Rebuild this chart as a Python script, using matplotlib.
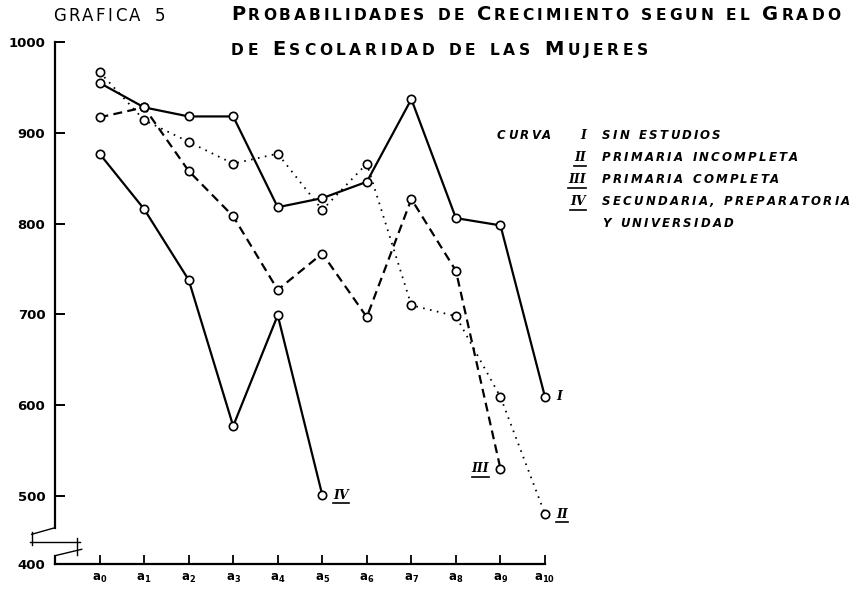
import matplotlib
matplotlib.use('Agg')
import matplotlib.pyplot as plt
from matplotlib.lines import Line2D
from matplotlib.font_manager import FontProperties

# Data (a0 .. a10)
x_labels = [r'$\mathbf{a}_{\mathbf{%d}}$' % i for i in range(11)]
x_pos = list(range(11))
curve_I = [955, 928, 918, 918, 818, 828, 846, 937, 806, 798, 609]
curve_II = [967, 914, 890, 866, 877, 815, 866, 710, 698, 609, 480]
curve_III = [917, 928, 858, 808, 727, 767, 697, 827, 748, 530]
curve_IV = [877, 816, 738, 577, 699, 501]
y_ticks = [500, 600, 700, 800, 900, 1000]
legend_rows = [('I', 'SIN ESTUDIOS'), ('II', 'PRIMARIA INCOMPLETA'),
               ('III', 'PRIMARIA COMPLETA'), ('IV', 'SECUNDARIA, PREPARATORIA'),
               ('', 'Y UNIVERSIDAD')]

W, H = 852, 596
fig = plt.figure(figsize=(W / 100, H / 100), dpi=100)
ax = fig.add_axes([55 / W, 32 / H, 490 / W, 522 / H])
renderer = fig.canvas.get_renderer()


def fx(px):
    return px / W


def fy(py):
    return 1 - py / H


def spaced_text(x0, y, chars, sizes, x1=None, track=0.0, space=0.45, **kw):
    # letter by letter so the spacing of the lettering can be matched
    widths = []
    for ch, sz in zip(chars, sizes):
        if ch == ' ':
            widths.append(space * sz * 100 / 72)
        else:
            prop = FontProperties(family=kw.get('family', 'DejaVu Sans'),
                                  weight=kw.get('fontweight', 'normal'),
                                  style=kw.get('fontstyle', 'normal'), size=sz)
            w, h, d = renderer.get_text_width_height_descent(ch, prop, ismath=False)
            widths.append(w)
    if x1 is not None:
        track = (x1 - x0 - sum(widths)) / (len(chars) - 1)
    x = x0
    for ch, sz, w in zip(chars, sizes, widths):
        if ch != ' ':
            fig.text(fx(x), fy(y), ch, fontsize=sz, ha='left', va='baseline', **kw)
        x += w + track
    return track


def small_caps(x0, y, s, big, small, x1, **kw):
    chars = s.upper()
    sizes = [big if c.isupper() else small for c in s]
    spaced_text(x0, y, chars, sizes, x1=x1, fontweight='bold', **kw)


def underline(t, pad=1.5):
    bb = t.get_window_extent(renderer)
    fig.add_artist(Line2D([bb.x0 / W, bb.x1 / W], [(bb.y0 - pad) / H] * 2,
                          color='black', lw=1.2))


# curves
ax.plot(x_pos, curve_I, color='black', lw=1.6, marker='o', ms=6, mfc='white',
        mec='black', mew=1.2, clip_on=False, zorder=3)
ax.plot(x_pos, curve_II, color='black', lw=1.3, dashes=(0.9, 3), marker='o', ms=6,
        mfc='white', mec='black', mew=1.2, clip_on=False, zorder=3)
ax.plot(x_pos[:len(curve_III)], curve_III, color='black', lw=1.6, dashes=(4, 2.4),
        marker='o', ms=6, mfc='white', mec='black', mew=1.2, clip_on=False, zorder=3)
ax.plot(x_pos[:len(curve_IV)], curve_IV, color='black', lw=1.6, marker='o', ms=6,
        mfc='white', mec='black', mew=1.2, clip_on=False, zorder=3)

ax.set_xlim(-1, 10)
ax.set_ylim(425, 1000)

# axes styling
for side in ['top', 'right']:
    ax.spines[side].set_visible(False)
ax.spines['left'].set_bounds(465, 1000)
ax.spines['left'].set_linewidth(1.6)
ax.spines['bottom'].set_linewidth(1.6)

ax.set_xticks(x_pos)
ax.set_xticklabels(x_labels, fontsize=8.5)
ax.set_yticks(y_ticks + [425])
ax.set_yticklabels([str(v) for v in y_ticks] + ['400'], fontsize=9.5, fontweight='bold')
ax.tick_params(axis='x', direction='in', length=6.5, width=1.3, pad=6)
ax.tick_params(axis='y', direction='in', length=7, width=1.4, pad=7)
ax.yaxis.get_major_ticks()[-1].tick1line.set_visible(False)

# axis break
brk = [((31.7, 534.3), (55, 527.7)), ((30, 542.3), (80, 542.3)),
       ((55, 555.7), (81.7, 549.3)), ((31.7, 531.7), (31.7, 545)),
       ((76.7, 538), (76.7, 555)), ((55, 555.7), (55, 564))]
for (xa, ya), (xb, yb) in brk:
    lw = 1.6 if xa == xb == 55 else 1.0
    fig.add_artist(Line2D([fx(xa), fx(xb)], [fy(ya), fy(yb)], color='black', lw=lw))

# titles
spaced_text(53, 21, 'GRAFICA 5', [12] * 9, x1=165, space=0.6)
small_caps(231, 20, 'Probabilidades de Crecimiento segun el Grado', 14, 11.2, 840)
small_caps(231, 55, 'de Escolaridad de las Mujeres', 14, 11.2, 648)

# legend
leg_kw = dict(fontweight='bold', fontstyle='italic')
track = spaced_text(602, 205, legend_rows[3][1], [8.5] * len(legend_rows[3][1]),
                    x1=850, **leg_kw)
spaced_text(497, 139, 'CURVA', [8.5] * 5, track=track, **leg_kw)
for i, (num, label) in enumerate(legend_rows):
    yb = 139 + 22 * i
    if i != 3:
        spaced_text(602, yb, label, [8.5] * len(label), track=track, **leg_kw)
    if num:
        t = fig.text(fx(586), fy(yb), num, fontsize=9, ha='right', va='baseline',
                     family='DejaVu Serif', fontstyle='italic', fontweight='bold')
        if num != 'I':
            underline(t)

# curve end labels
ends = [('I', 10, curve_I[-1], 8, 'left'), ('II', 10, curve_II[-1], 8, 'left'),
        ('III', len(curve_III) - 1, curve_III[-1], -8, 'right'),
        ('IV', len(curve_IV) - 1, curve_IV[-1], 8, 'left')]
for num, xi, yi, dx, ha in ends:
    t = ax.annotate(num, xy=(xi, yi), xytext=(dx, 0), textcoords='offset points',
                    ha=ha, va='center', fontsize=9, family='DejaVu Serif',
                    fontstyle='italic', fontweight='bold', annotation_clip=False)
    if num != 'I':
        underline(t)

fig.savefig('out.png', dpi=100, facecolor='white')
